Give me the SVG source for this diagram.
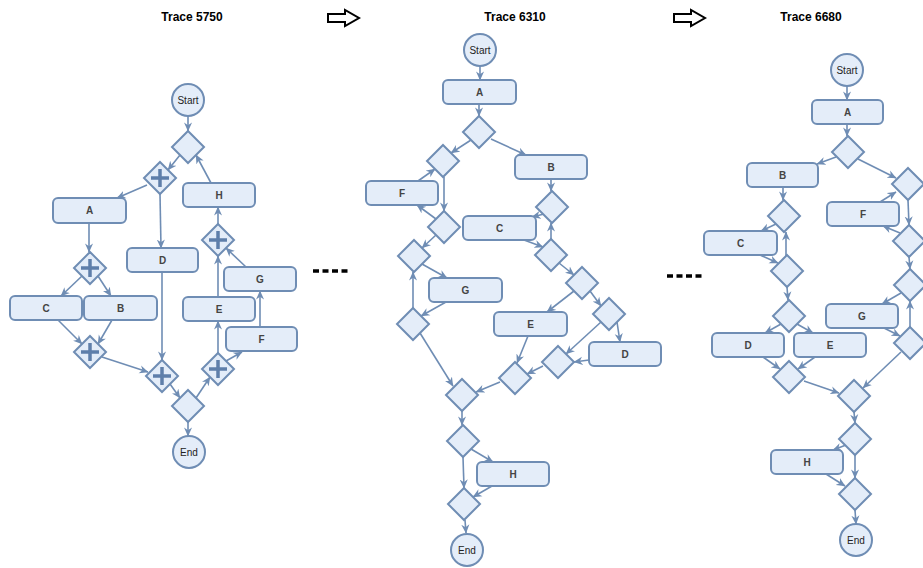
<svg xmlns="http://www.w3.org/2000/svg" width="923" height="568" viewBox="0 0 923 568">
<defs>
<style>
.bx{fill:#E4EDF9;stroke:#6F8DB4;stroke-width:2}
.gw{fill:#E4EDF9;stroke:#6F8DB4;stroke-width:2}
.pl{stroke:#5F7FAA;stroke-width:3.5;fill:none}
.e path{fill:none;stroke:#6F8DB4;stroke-width:1.6;marker-end:url(#ah)}
.t{font-family:"Liberation Sans",Arial,sans-serif;font-size:10px;font-weight:bold;fill:#444;text-anchor:middle;dominant-baseline:central}
.t.c{font-weight:normal;fill:#222;font-size:10px}
.tt{font-family:"Liberation Sans",Arial,sans-serif;font-size:12px;font-weight:bold;fill:#000;text-anchor:middle}
.ba{fill:#fff;stroke:#000;stroke-width:2}
.dash{stroke:#000;stroke-width:3.5;stroke-dasharray:6 3.5;fill:none}
</style>
<marker id="ah" viewBox="0 0 10 10" refX="9.5" refY="5" markerWidth="9" markerHeight="9" markerUnits="userSpaceOnUse" orient="auto">
<path d="M0,0.5 L10,5 L0,9.5 L3,5 Z" fill="#6F8DB4"/>
</marker>
<path id="dm" d="M0,-16 L16,0 L0,16 L-16,0 Z"/>
</defs>
<rect width="923" height="568" fill="#fff"/>

<text class="tt" x="192" y="21">Trace 5750</text>
<text class="tt" x="515" y="21">Trace 6310</text>
<text class="tt" x="811" y="21">Trace 6680</text>
<polygon class="ba" points="328,14 345,14 345,10 359,18 345,26 345,22 328,22"/>
<polygon class="ba" points="674,14 691,14 691,10 705,18 691,26 691,22 674,22"/>
<path class="dash" d="M313,271 h35"/>
<path class="dash" d="M667,276 h35"/>

<g class="e" id="edges1">
<path d="M188,116 V131"/>
<path d="M180,155 L168,170"/>
<path d="M211,183 L196,155"/>
<path d="M147,185 L117,198"/>
<path d="M160,194 L161,248"/>
<path d="M89,223 V252"/>
<path d="M82,276 L61,296"/>
<path d="M98,276 L111,296"/>
<path d="M58,320 L82,344"/>
<path d="M112,320 L98,344"/>
<path d="M102,357 L148,372"/>
<path d="M162,272 V360"/>
<path d="M170,384 L180,398"/>
<path d="M196,398 L210,377"/>
<path d="M218,353 V321"/>
<path d="M226,361 L242,352"/>
<path d="M260,327 V291"/>
<path d="M246,267 L226,248"/>
<path d="M218,297 V256"/>
<path d="M218,224 V207"/>
<path d="M188,422 V436"/>
</g>

<g class="e" id="edges2">
<path d="M480,66 V80"/>
<path d="M479,104 V116"/>
<path d="M471,140 L451,153"/>
<path d="M491,139 L526,155"/>
<path d="M444,177 V211"/>
<path d="M418,181 L435,169"/>
<path d="M436,219 L417,205"/>
<path d="M436,235 L422,248"/>
<path d="M551,179 V191"/>
<path d="M544,214 L532,217"/>
<path d="M524,240 L543,247"/>
<path d="M551,239 V223"/>
<path d="M559,263 L574,275"/>
<path d="M422,264 L447,278"/>
<path d="M446,302 L421,316"/>
<path d="M413,308 V272"/>
<path d="M420,333 L453,386"/>
<path d="M574,291 L547,312"/>
<path d="M590,291 L601,306"/>
<path d="M617,322 L620,342"/>
<path d="M601,322 L566,354"/>
<path d="M589,360 L574,362"/>
<path d="M543,366 L527,374"/>
<path d="M528,336 L517,363"/>
<path d="M500,382 L476,392"/>
<path d="M462,410 V425"/>
<path d="M471,449 L493,462"/>
<path d="M463,457 L464,488"/>
<path d="M492,486 L473,497"/>
<path d="M465,520 L466,533"/>
</g>

<g class="e" id="edges3">
<path d="M847,86 V100"/>
<path d="M847,124 V136"/>
<path d="M836,157 L817,164"/>
<path d="M858,159 L896,178"/>
<path d="M783,188 V200"/>
<path d="M776,224 L761,231"/>
<path d="M760,255 L778,263"/>
<path d="M786,256 V232"/>
<path d="M787,287 L788,300"/>
<path d="M781,324 L765,333"/>
<path d="M797,324 L813,333"/>
<path d="M763,357 L780,369"/>
<path d="M815,357 L798,369"/>
<path d="M804,381 L839,393"/>
<path d="M901,352 L863,388"/>
<path d="M854,412 L855,423"/>
<path d="M846,445 L833,450"/>
<path d="M855,455 V478"/>
<path d="M826,474 L845,486"/>
<path d="M855,510 L856,524"/>
<path d="M908,200 L909,225"/>
<path d="M880,202 L896,192"/>
<path d="M900,233 L883,226"/>
<path d="M909,257 L910,269"/>
<path d="M901,293 L882,304"/>
<path d="M884,328 L900,336"/>
<path d="M910,327 V301"/>
</g>

<!-- Diagram 1 -->
<g id="t1-start"><circle class="bx" cx="188" cy="100" r="16"/><text class="t c" x="188" y="100">Start</text></g>
<g id="t1-x1" transform="translate(188,147)"><use href="#dm" class="gw"/></g>
<g id="t1-p1" transform="translate(160,178)"><use href="#dm" class="gw"/><path class="pl" d="M-9,0H9M0,-9V9"/></g>
<g id="t1-H"><rect class="bx" x="183" y="183" width="72" height="24" rx="5"/><text class="t" x="219" y="195">H</text></g>
<g id="t1-A"><rect class="bx" x="53" y="198" width="73" height="25" rx="5"/><text class="t" x="89.5" y="210.5">A</text></g>
<g id="t1-D"><rect class="bx" x="127" y="248" width="71" height="24" rx="5"/><text class="t" x="162.5" y="260">D</text></g>
<g id="t1-p2" transform="translate(90,268)"><use href="#dm" class="gw"/><path class="pl" d="M-9,0H9M0,-9V9"/></g>
<g id="t1-C"><rect class="bx" x="10" y="296" width="72" height="24" rx="5"/><text class="t" x="46" y="308">C</text></g>
<g id="t1-B"><rect class="bx" x="84" y="296" width="73" height="24" rx="5"/><text class="t" x="120.5" y="308">B</text></g>
<g id="t1-p3" transform="translate(90,352)"><use href="#dm" class="gw"/><path class="pl" d="M-9,0H9M0,-9V9"/></g>
<g id="t1-p4" transform="translate(162,376)"><use href="#dm" class="gw"/><path class="pl" d="M-9,0H9M0,-9V9"/></g>
<g id="t1-p5" transform="translate(218,369)"><use href="#dm" class="gw"/><path class="pl" d="M-9,0H9M0,-9V9"/></g>
<g id="t1-x2" transform="translate(188,406)"><use href="#dm" class="gw"/></g>
<g id="t1-end"><circle class="bx" cx="189" cy="452" r="16"/><text class="t c" x="189" y="452">End</text></g>
<g id="t1-p6" transform="translate(218,240)"><use href="#dm" class="gw"/><path class="pl" d="M-9,0H9M0,-9V9"/></g>
<g id="t1-G"><rect class="bx" x="224" y="267" width="72" height="24" rx="5"/><text class="t" x="260" y="279">G</text></g>
<g id="t1-E"><rect class="bx" x="183" y="297" width="72" height="24" rx="5"/><text class="t" x="219" y="309">E</text></g>
<g id="t1-F"><rect class="bx" x="226" y="327" width="71" height="24" rx="5"/><text class="t" x="261.5" y="339">F</text></g>

<!-- Diagram 2 -->
<g id="t2-start"><circle class="bx" cx="480" cy="50" r="16"/><text class="t c" x="480" y="50">Start</text></g>
<g id="t2-A"><rect class="bx" x="443" y="80" width="73" height="24" rx="5"/><text class="t" x="479.5" y="92">A</text></g>
<g id="t2-xa" transform="translate(479,132)"><use href="#dm" class="gw"/></g>
<g id="t2-xb" transform="translate(443,161)"><use href="#dm" class="gw"/></g>
<g id="t2-B"><rect class="bx" x="515" y="155" width="72" height="24" rx="5"/><text class="t" x="551" y="167">B</text></g>
<g id="t2-F"><rect class="bx" x="366" y="181" width="72" height="24" rx="5"/><text class="t" x="402" y="193">F</text></g>
<g id="t2-xc" transform="translate(444,227)"><use href="#dm" class="gw"/></g>
<g id="t2-xd" transform="translate(552,207)"><use href="#dm" class="gw"/></g>
<g id="t2-C"><rect class="bx" x="463" y="216" width="73" height="24" rx="5"/><text class="t" x="499.5" y="228">C</text></g>
<g id="t2-xe" transform="translate(551,255)"><use href="#dm" class="gw"/></g>
<g id="t2-xf" transform="translate(414,256)"><use href="#dm" class="gw"/></g>
<g id="t2-G"><rect class="bx" x="429" y="278" width="73" height="24" rx="5"/><text class="t" x="465.5" y="290">G</text></g>
<g id="t2-xg" transform="translate(413,324)"><use href="#dm" class="gw"/></g>
<g id="t2-xh" transform="translate(582,283)"><use href="#dm" class="gw"/></g>
<g id="t2-xi" transform="translate(609,314)"><use href="#dm" class="gw"/></g>
<g id="t2-E"><rect class="bx" x="494" y="312" width="73" height="24" rx="5"/><text class="t" x="530.5" y="324">E</text></g>
<g id="t2-D"><rect class="bx" x="589" y="342" width="72" height="24" rx="5"/><text class="t" x="625" y="354">D</text></g>
<g id="t2-xj" transform="translate(558,362)"><use href="#dm" class="gw"/></g>
<g id="t2-xk" transform="translate(515,378)"><use href="#dm" class="gw"/></g>
<g id="t2-xl" transform="translate(462,395)"><use href="#dm" class="gw"/></g>
<g id="t2-xm" transform="translate(463,441)"><use href="#dm" class="gw"/></g>
<g id="t2-H"><rect class="bx" x="477" y="462" width="72" height="24" rx="5"/><text class="t" x="513" y="474">H</text></g>
<g id="t2-xn" transform="translate(464,504)"><use href="#dm" class="gw"/></g>
<g id="t2-end"><circle class="bx" cx="467" cy="550" r="16"/><text class="t c" x="467" y="550">End</text></g>

<!-- Diagram 3 -->
<g id="t3-start"><circle class="bx" cx="847" cy="70" r="16"/><text class="t c" x="847" y="70">Start</text></g>
<g id="t3-A"><rect class="bx" x="812" y="100" width="71" height="24" rx="5"/><text class="t" x="847.5" y="112">A</text></g>
<g id="t3-xa" transform="translate(848,152)"><use href="#dm" class="gw"/></g>
<g id="t3-B"><rect class="bx" x="747" y="163" width="71" height="24" rx="5"/><text class="t" x="782.5" y="175">B</text></g>
<g id="t3-xp" transform="translate(908,184)"><use href="#dm" class="gw"/></g>
<g id="t3-xq" transform="translate(784,216)"><use href="#dm" class="gw"/></g>
<g id="t3-C"><rect class="bx" x="704" y="231" width="73" height="24" rx="5"/><text class="t" x="740.5" y="243">C</text></g>
<g id="t3-xr" transform="translate(787,271)"><use href="#dm" class="gw"/></g>
<g id="t3-xs" transform="translate(789,316)"><use href="#dm" class="gw"/></g>
<g id="t3-D"><rect class="bx" x="712" y="333" width="72" height="24" rx="5"/><text class="t" x="748" y="345">D</text></g>
<g id="t3-E"><rect class="bx" x="794" y="333" width="72" height="24" rx="5"/><text class="t" x="830" y="345">E</text></g>
<g id="t3-xt" transform="translate(789,377)"><use href="#dm" class="gw"/></g>
<g id="t3-xu" transform="translate(854,396)"><use href="#dm" class="gw"/></g>
<g id="t3-xv" transform="translate(855,439)"><use href="#dm" class="gw"/></g>
<g id="t3-H"><rect class="bx" x="771" y="450" width="72" height="24" rx="5"/><text class="t" x="807" y="462">H</text></g>
<g id="t3-xw" transform="translate(855,494)"><use href="#dm" class="gw"/></g>
<g id="t3-end"><circle class="bx" cx="856" cy="540" r="16"/><text class="t c" x="856" y="540">End</text></g>
<g id="t3-F"><rect class="bx" x="827" y="202" width="72" height="24" rx="5"/><text class="t" x="863" y="214">F</text></g>
<g id="t3-xx" transform="translate(909,241)"><use href="#dm" class="gw"/></g>
<g id="t3-xy" transform="translate(910,285)"><use href="#dm" class="gw"/></g>
<g id="t3-G"><rect class="bx" x="826" y="304" width="72" height="24" rx="5"/><text class="t" x="862" y="316">G</text></g>
<g id="t3-xz" transform="translate(910,343)"><use href="#dm" class="gw"/></g>
</svg>
